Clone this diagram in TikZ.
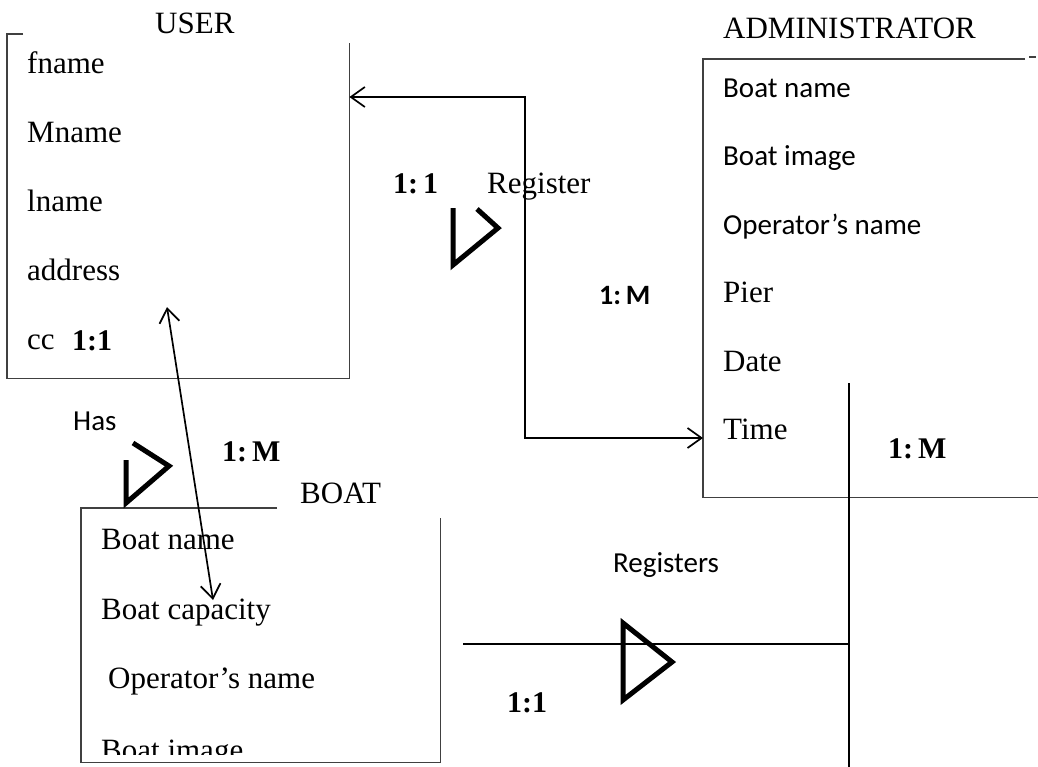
\documentclass[tikz,border=0pt]{standalone}
\usepackage{fontspec}
\setmainfont{Liberation Serif}
\newfontfamily\calibri{Carlito}
\usetikzlibrary{positioning,arrows.meta,calc}

\begin{document}
\begin{tikzpicture}[x=1pt, y=-1pt,
    ent/.style={anchor=north west, inner sep=0pt, draw=none},
    edge/.style={line width=1.3pt, draw=black!75},
    conn/.style={line width=1.7pt},
    both/.style={conn, {Straight Barb[length=14pt,width=20pt]}-{Straight Barb[length=14pt,width=20pt]}},
    relsym/.style={line width=5pt, line join=miter},
    attr/.style={anchor=base west, inner sep=0pt, font=\fontsize{31}{33}\selectfont},
    sattr/.style={attr, font=\calibri\fontsize{29}{31}\selectfont},
    card/.style={attr, font=\fontsize{30}{32}\selectfont\bfseries},
    scard/.style={attr, font=\calibri\fontsize{28}{30}\selectfont\bfseries}]
    \clip (0,0) rectangle (1038,766);
    \fill[white] (0,0) rectangle (1038,766);

    % entities
    \node[ent, minimum width=342pt, minimum height=344pt] (user) at (7,34) {};
    \node[ent, minimum width=360pt, minimum height=438pt] (admin) at (703,59) {};
    \node[ent, minimum width=359pt, minimum height=254pt] (boat) at (81,508) {};

    \draw[edge] ([xshift=16pt]user.north west) -- (user.north west) -- (user.south west)
      -- (user.south east) -- ([yshift=-9pt]user.north east);
    \draw[edge] ([xshift=322pt]admin.north west) -- (admin.north west) -- (admin.south west)
      -- (admin.south east);
    \draw[edge] (1029,57) -- (1036,57);
    \draw[edge] ([xshift=196pt]boat.north west) -- (boat.north west) -- (boat.south west)
      -- (boat.south east) -- ([yshift=-10pt]boat.north east);

    \node[attr] (userlbl) at (155,33) {USER};
    \node[attr] (adminlbl) at (723,38) {ADMINISTRATOR};
    \node[attr] (boatlbl) at (300,503) {BOAT};

    % attributes
    \foreach \t [count=\i] in {fname,Mname,lname,address,cc}
      \node[attr] (u\i) at (27,4+69*\i) {\t};
    \foreach \t [count=\i] in {Boat name,Boat image,Operator’s name}
      \node[sattr] (a\i) at (723,29+68.4*\i) {\t};
    \foreach \t [count=\i from 4] in {Pier,Date,Time}
      \node[attr] (a\i) at (723,29+68.4*\i) {\t};
    \node[attr] (b1) at (101,549) {Boat name};
    \node[attr] (b2) at (101,619) {Boat capacity};
    \node[attr] (b3) at (108,688) {Operator’s name};
    \begin{scope}
      \clip (boat.north west) rectangle (440,754);
      \node[attr] (b4) at (101,760) {Boat image};
    \end{scope}

    % register
    \coordinate (rg1) at (525,97);
    \coordinate (rg2) at (525,438);
    \draw[both] (user.east |- rg1) -- (rg1) -- (rg2) -- (admin.west |- rg2);
    \draw[relsym] (477,209) -- (498,228) -- (453,265) -- (453,208);
    \node[card] (c1) at (393,193) {1:\,1};
    \node[attr] (reglbl) at (487,193) {Register};
    \node[scard] (c2) at (599,304) {1:\,M};

    % has
    \coordinate (h1) at (167,307);
    \coordinate (h2) at (213,600);
    \draw[both] (h1) -- (h2);
    \draw[relsym] (133,443) -- (169,466) -- (126,503) -- (126,460);
    \node[sattr] (haslbl) at (73,430) {Has};
    \node[card] (c3) at (72,350) {1:1};
    \node[card] (c4) at (222,461) {1:\,M};

    % registers
    \coordinate (rs) at (463,644);
    \coordinate (vt) at (849,383);
    \coordinate (vb) at (849,770);
    \draw[conn] (rs) -- (vt |- rs);
    \draw[conn] (vt) -- (vb);
    \draw[relsym] (623,623) -- (672,662) -- (623,700) -- cycle;
    \node[sattr] (rslbl) at (613,572) {Registers};
    \node[card] (c5) at (507,712) {1:1};
    \node[card] (c6) at (888,458) {1:\,M};
\end{tikzpicture}
\end{document}
